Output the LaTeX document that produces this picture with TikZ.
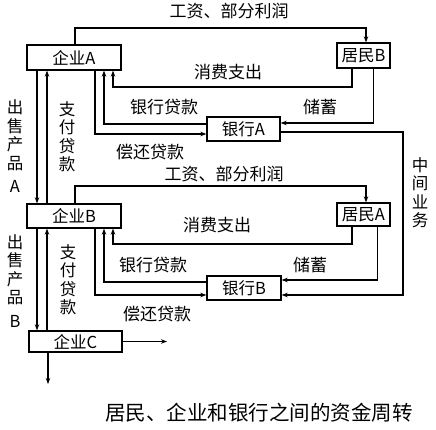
\documentclass[tikz,border=0pt]{standalone}
\usepackage{fontspec}
\setmainfont{Noto Sans CJK SC}
\usetikzlibrary{arrows.meta}
\begin{document}
\begin{tikzpicture}[x=1pt,y=-1pt,
  box/.style={draw,line width=1.3pt,inner sep=0pt,font=\fontsize{16.5}{18}\selectfont},
  arr/.style={-{Stealth[length=6pt,width=4.5pt]},line width=1.1pt},
  lab/.style={inner sep=0pt,font=\fontsize{17}{19}\selectfont},
  vlab/.style={inner sep=0pt,align=center,font=\fontsize{16.5}{18.5}\selectfont},
  captext/.style={inner sep=0pt,font=\fontsize{20.5}{22}\selectfont}]
\useasboundingbox (0,0) rectangle (436,430);

% boxes
\node[box,minimum width=94pt,minimum height=25pt] (qA) at (74,57.5) {企业A};
\node[box,minimum width=53pt,minimum height=25pt] (rB) at (363.5,55.5) {居民B};
\node[box,minimum width=73pt,minimum height=24pt] (bA) at (243.5,129) {银行A};
\node[box,minimum width=94pt,minimum height=24pt] (qB) at (74,216) {企业B};
\node[box,minimum width=53pt,minimum height=23pt] (rA) at (363.5,214.5) {居民A};
\node[box,minimum width=74pt,minimum height=24pt] (bB) at (244,288) {银行B};
\node[box,minimum width=93pt,minimum height=21pt] (qC) at (75.5,341.5) {企业C};

\coordinate (c1) at (366,28);
\coordinate (c2) at (113,87);
\coordinate (c3) at (403,295);
\coordinate (c4) at (366,186);
\coordinate (c5) at (113,244);
\coordinate (cR) at (167,341.5);
\coordinate (cD) at (48,384);

% upper loop
\draw[arr] ([xshift=1pt]qA.north) |- (c1) -- ([xshift=2.5pt]rB.north);
\draw[arr] ([xshift=-11.5pt]rB.south) |- (c2) -- ([xshift=39pt]qA.south);
\draw[arr] ([yshift=5pt]bA.west) -| ([xshift=30pt]qA.south);
\draw[arr] ([xshift=21pt]qA.south) |- ([yshift=-5pt]bA.west);
\draw[arr] ([xshift=10pt]rB.south) |- ([yshift=6pt]bA.east);
\draw[arr] ([yshift=-3pt]bA.east) -| (c3) -- ([yshift=-7pt]bB.east);

% A <-> B
\draw[arr] ([xshift=-37pt]qA.south) -- ([xshift=-37pt]qB.north);
\draw[arr] ([xshift=-27pt]qB.north) -- ([xshift=-27pt]qA.south);

% lower loop
\draw[arr] ([xshift=1pt]qB.north) |- (c4) -- ([xshift=2.5pt]rA.north);
\draw[arr] ([xshift=-11.5pt]rA.south) |- (c5) -- ([xshift=39pt]qB.south);
\draw[arr] ([yshift=6pt]bB.west) -| ([xshift=30pt]qB.south);
\draw[arr] ([xshift=21pt]qB.south) |- ([yshift=-7pt]bB.west);
\draw[arr] ([xshift=14pt]rA.south) |- ([yshift=8pt]bB.east);

% B <-> C
\draw[arr] ([xshift=-37pt]qB.south) -- ([xshift=-38.5pt]qC.north);
\draw[arr] ([xshift=-28.5pt]qC.north) -- ([xshift=-27pt]qB.south);
\draw[arr] (qC.east) -- (cR);
\draw[arr] ([xshift=-27.5pt]qC.south) -- (cD);

% labels
\node[lab] (l1) at (229,11) {工资、部分利润};
\node[lab] (l2) at (228,72) {消费支出};
\node[lab] (l3) at (164,107) {银行贷款};
\node[lab] (l4) at (150,152) {偿还贷款};
\node[lab] (l5) at (320,107) {储蓄};
\node[lab] (l6) at (224,174.5) {工资、部分利润};
\node[lab] (l7) at (217,225) {消费支出};
\node[lab] (l8) at (153,265) {银行贷款};
\node[lab] (l9) at (157,314) {偿还贷款};
\node[lab] (l10) at (310,265) {储蓄};

\node[vlab] (v1) at (15,146.5) {出\\售\\产\\品\\[5pt]A};
\node[vlab] (v2) at (67,136.5) {支\\付\\贷\\款};
\node[vlab] (v3) at (15,281) {出\\售\\产\\品\\[5pt]B};
\node[vlab] (v4) at (68,279.5) {支\\付\\贷\\款};
\node[vlab] (v5) at (420,192.5) {中\\间\\业\\务};

\node[captext] (cap) at (259,413) {居民、企业和银行之间的资金周转};
\end{tikzpicture}
\end{document}
